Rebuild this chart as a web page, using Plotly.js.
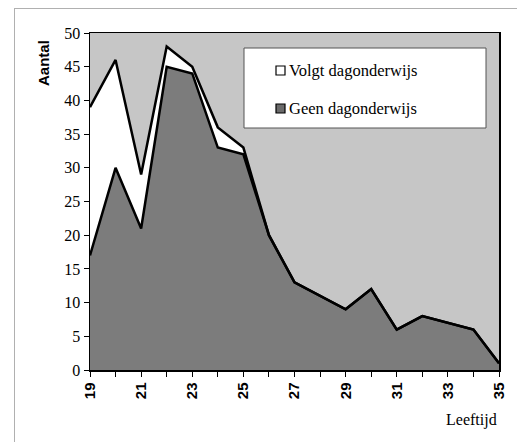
<!DOCTYPE html>
<html>
<head>
<meta charset="utf-8">
<script src="https://cdn.plot.ly/plotly-3.0.1.min.js"></script>
<style>
html,body{margin:0;padding:0;background:#fff;}
#frame{position:absolute;left:14px;top:8px;width:503px;height:434px;border-top:1px solid #b0b0b0;border-left:1px solid #b0b0b0;box-sizing:border-box;pointer-events:none;}
#chart{width:517px;height:442px;}
</style>
</head>
<body>
<div id="chart"></div>
<div id="frame"></div>
<script>
const ages = [19,20,21,22,23,24,25,26,27,28,29,30,31,32,33,34,35];
const geenDagonderwijs = [17,30,21,45,44,33,32,20,13,11,9,12,6,8,7,6,1];
const volgtDagonderwijs = [22,16,8,3,1,3,1,0,0,0,0,0,0,0,0,0,0];
const seriesNames = ['Volgt dagonderwijs','Geen dagonderwijs'];
const yTicks = [0,5,10,15,20,25,30,35,40,45,50];
const xTicks = [19,21,23,25,27,29,31,33,35];

const SERIF = 'Liberation Serif';
const SANS = 'Liberation Sans';

const traces = [
  {x: ages, y: geenDagonderwijs, name: seriesNames[1], type:'scatter', mode:'lines',
   stackgroup:'a', fillcolor:'#7c7c7c', line:{color:'#000', width:2.5}, showlegend:false},
  {x: ages, y: volgtDagonderwijs, name: seriesNames[0], type:'scatter', mode:'lines',
   stackgroup:'a', fillcolor:'#ffffff', line:{color:'#000', width:2.5}, showlegend:false}
];

const layout = {
  width:517, height:442,
  margin:{l:90, r:18, t:33, b:72},
  paper_bgcolor:'#ffffff', plot_bgcolor:'#c6c6c6',
  showlegend:false,
  font:{family:SERIF, color:'#000', size:14},
  xaxis:{range:[19,35], tickvals:xTicks, ticktext:xTicks.map(String), tickangle:-90,
    tickfont:{family:SANS, size:15, color:'#000', weight:'bold'},
    ticks:'outside', ticklen:5, tickcolor:'#000', showline:true, linecolor:'#000', linewidth:1.5, mirror:true,
    showgrid:false, zeroline:false,
    minor:{dtick:1, tick0:19, ticks:'outside', ticklen:5, tickcolor:'#000', showgrid:false}},
  yaxis:{range:[0,50], tickvals:yTicks, ticks:'outside', ticklen:5, tickcolor:'#000',
    tickfont:{family:SERIF, size:16, color:'#000'},
    showline:true, linecolor:'#000', linewidth:1.5, mirror:true, showgrid:false, zeroline:false},
  shapes:[
    {type:'rect', xref:'paper', yref:'paper', x0:(244-90)/409, x1:(486-90)/409, y0:(370-128)/337, y1:(370-48)/337,
     fillcolor:'#ffffff', line:{color:'#555', width:1}, layer:'above'},
    {type:'rect', xref:'paper', yref:'paper', x0:(276-90)/409, x1:(285-90)/409, y0:(370-75)/337, y1:(370-66)/337,
     fillcolor:'#ffffff', line:{color:'#000', width:1.2}, layer:'above'},
    {type:'rect', xref:'paper', yref:'paper', x0:(276-90)/409, x1:(285-90)/409, y0:(370-113)/337, y1:(370-104)/337,
     fillcolor:'#6a6a6a', line:{color:'#000', width:1.2}, layer:'above'}
  ],
  annotations:[
    {text:seriesNames[0], xref:'paper', yref:'paper', x:(287-90)/409, y:(370-70)/337, xanchor:'left', yanchor:'middle',
     showarrow:false, font:{size:16.5, family:SERIF}},
    {text:seriesNames[1], xref:'paper', yref:'paper', x:(287-90)/409, y:(370-108)/337, xanchor:'left', yanchor:'middle',
     showarrow:false, font:{size:16.5, family:SERIF}},
    {text:'Aantal', xref:'paper', yref:'paper', x:(44-90)/409, y:(370-63)/337, xanchor:'center', yanchor:'middle',
     textangle:-90, showarrow:false, font:{size:15, family:SANS, weight:'bold'}},
    {text:'Leeftijd', xref:'paper', yref:'paper', x:1, y:-(420-370)/337, xanchor:'right', yanchor:'middle',
     showarrow:false, font:{size:16, family:SERIF}}
  ]
};

Plotly.newPlot('chart', traces, layout, {displayModeBar:false, staticPlot:true});
</script>
</body>
</html>
